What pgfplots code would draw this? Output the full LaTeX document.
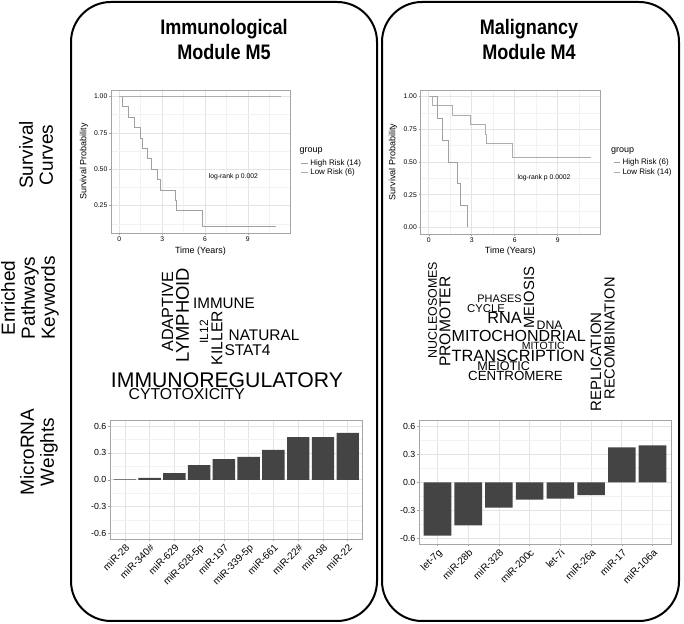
\documentclass[border=0pt]{standalone}
\usepackage{fontspec}
\setmainfont{Liberation Sans}
\usepackage{pgfplots}
\pgfplotsset{compat=1.18}

\definecolor{bordergray}{RGB}{165,165,165}
\definecolor{gridmaj}{RGB}{228,228,228}
\definecolor{gridmin}{RGB}{242,242,242}
\definecolor{barfill}{RGB}{68,68,68}
\definecolor{kmA}{RGB}{160,160,160}
\definecolor{kmB}{RGB}{172,172,172}

\pgfplotsset{
  gg/.style={
    scale only axis,
    clip mode=individual,
    /pgf/number format/assume math mode=true,
    axis line style={draw=bordergray, line width=0.7bp},
    tick style={draw=bordergray, line width=0.6bp},
    tick align=outside,
    major tick length=2bp,
    minor tick length=0pt,
    tick pos=left,
    grid=both,
    major grid style={draw=gridmaj, line width=0.7bp},
    minor grid style={draw=gridmin, line width=0.5bp},
  },
  surv/.style={
    gg,
    xmin=-0.58, xmax=11.95,
    xtick={0,3,6,9}, minor xtick={1.5,4.5,7.5,10.5},
    minor ytick={0.125,0.375,0.625,0.875},
    yticklabel style={/pgf/number format/fixed, /pgf/number format/fixed zerofill, /pgf/number format/precision=2},
    ticklabel style={font=\fontsize{6.8bp}{7bp}\selectfont, text=black, inner sep=1.5bp},
    label style={font=\fontsize{9bp}{10bp}\selectfont},
    xlabel={Time (Years)}, ylabel={Survival Probability},
    legend style={draw=none, fill=none, font=\fontsize{8bp}{9bp}\selectfont, inner sep=0pt, row sep=-1.5bp,
      /tikz/every even column/.append style={column sep=1bp}},
    legend cell align=left,
    legend image code/.code={\draw[#1, line width=0.9bp] (0bp,0bp) -- (6.5bp,0bp);},
  },
  bars/.style={
    gg,
    ymin=-0.66, ymax=0.66, xmin=-0.6,
    ytick={-0.6,-0.3,0,0.3,0.6}, minor ytick={-0.45,-0.15,0.15,0.45},
    yticklabel style={/pgf/number format/fixed, /pgf/number format/fixed zerofill, /pgf/number format/precision=1},
    ticklabel style={font=\fontsize{8.8bp}{9bp}\selectfont, text=black, inner sep=1.5bp},
    xticklabel style={rotate=45, anchor=north east, inner sep=1.5bp, font=\fontsize{10bp}{10bp}\selectfont},
  },
}

\newcommand{\cw}[5]{\node[inner sep=0pt, rotate=#4, font=\fontsize{#3bp}{#3bp}\selectfont] at (#1,624-#2) {#5};}

\begin{document}
\begin{tikzpicture}[x=1bp, y=1bp]
\useasboundingbox (0,0) rectangle (684,624);

% rounded panels
\draw[line width=2bp, rounded corners=40bp] (71,624-2) rectangle (377,624-621);
\draw[line width=2bp, rounded corners=40bp] (382,624-2) rectangle (679,624-621);

% titles
\node[align=center, font=\fontsize{21bp}{25bp}\selectfont\bfseries] at (224,624-40) {\scalebox{0.86}[1]{Immunological}\\\scalebox{0.86}[1]{Module M5}};
\node[align=center, font=\fontsize{21bp}{25bp}\selectfont\bfseries] at (529,624-40) {\scalebox{0.86}[1]{Malignancy}\\\scalebox{0.86}[1]{Module M4}};

% row labels
\node[rotate=90, align=center, font=\fontsize{19bp}{20bp}\selectfont] at (36,624-155) {Survival\\Curves};
\node[rotate=90, align=center, font=\fontsize{19bp}{20bp}\selectfont] at (30,624-298) {Enriched\\Pathways\\Keywords};
\node[rotate=90, align=center, font=\fontsize{19bp}{20bp}\selectfont] at (39,624-452) {MicroRNA\\Weights};

% ---------- Survival left ----------
\begin{axis}[surv, at={(111bp,391bp)}, anchor=south west, width=179bp, height=143bp,
  ymin=0.062, ymax=1.045, ytick={0.25,0.5,0.75,1},
  xlabel style={at={(axis description cs:0.5,-0.124)}, anchor=center},
  ylabel style={at={(axis description cs:-0.151,0.5)}, anchor=center},
  legend style={at={(axis description cs:1.06,0.53)}, anchor=north west},
]
\addplot[kmA, line width=0.9bp, const plot] coordinates {
  (0,1) (0.23,0.929) (0.63,0.857) (1.03,0.786) (1.45,0.714) (1.63,0.643)
  (2.0,0.571) (2.22,0.5) (2.67,0.429) (2.9,0.357) (3.95,0.286) (4.02,0.214)
  (5.84,0.107) (11.0,0.107)};
\addlegendentry{High Risk (14)}
\addplot[kmB, line width=0.9bp, const plot] coordinates {(0,1) (11.3,1)};
\addlegendentry{Low Risk (6)}
\node[anchor=west, inner sep=0pt, font=\fontsize{9bp}{10bp}\selectfont] at (axis description cs:1.052,0.573) {group};
\node[font=\fontsize{6.8bp}{7bp}\selectfont] at (axis description cs:0.684,0.394) {log-rank p 0.002};
\end{axis}

% ---------- Survival right ----------
\begin{axis}[surv, at={(420.5bp,390bp)}, anchor=south west, width=179.5bp, height=144bp,
  ymin=-0.05, ymax=1.05, ytick={0,0.25,0.5,0.75,1},
  xlabel style={at={(axis description cs:0.5,-0.116)}, anchor=center},
  ylabel style={at={(axis description cs:-0.153,0.5)}, anchor=center},
  legend style={at={(axis description cs:1.072,0.535)}, anchor=north west},
]
\addplot[kmA, line width=0.9bp, const plot] coordinates {
  (0,1) (0.58,0.833) (0.95,0.667) (1.39,0.5) (1.97,0.333) (2.2,0.167) (2.67,0)};
\addlegendentry{High Risk (6)}
\addplot[kmB, line width=0.9bp, const plot] coordinates {
  (0,1) (0.23,0.929) (1.65,0.857) (2.9,0.786) (3.92,0.714) (4.01,0.643)
  (5.87,0.536) (11.3,0.536)};
\addlegendentry{Low Risk (14)}
\node[anchor=west, inner sep=0pt, font=\fontsize{9bp}{10bp}\selectfont] at (axis description cs:1.061,0.576) {group};
\node[font=\fontsize{6.8bp}{7bp}\selectfont] at (axis description cs:0.688,0.391) {log-rank p 0.0002};
\end{axis}

% ---------- word clouds ----------
\cw{167.5}{311.7}{16.2}{90}{ADAPTIVE}
\cw{182.5}{315.3}{18.4}{90}{LYMPHOID}
\cw{224}{303.3}{15.2}{0}{IMMUNE}
\cw{204}{331.7}{12}{90}{IL12}
\cw{217}{338}{15.7}{90}{KILLER}
\cw{264}{335}{15.4}{0}{NATURAL}
\cw{247.5}{350}{15.5}{0}{STAT4}
\cw{227}{380}{21.2}{0}{IMMUNOREGULATORY}
\cw{186.7}{393.7}{15.8}{0}{CYTOTOXICITY}

\cw{432.5}{310}{12.4}{90}{NUCLEOSOMES}
\cw{445}{321.7}{15.6}{90}{PROMOTER}
\cw{499.5}{299.2}{10.9}{0}{PHASES}
\cw{486}{308.3}{11.3}{0}{CYCLE}
\cw{504.5}{318}{16.3}{0}{RNA}
\cw{529}{297.5}{14.8}{90}{MEIOSIS}
\cw{549.7}{325}{12.3}{0}{DNA}
\cw{518.7}{336.3}{16}{0}{MITOCHONDRIAL}
\cw{543.3}{346}{10.5}{0}{MITOTIC}
\cw{518.3}{356}{16.3}{0}{TRANSCRIPTION}
\cw{503.7}{366.2}{12.6}{0}{MEIOTIC}
\cw{515.5}{375.7}{13.3}{0}{CENTROMERE}
\cw{596}{361.7}{15}{90}{REPLICATION}
\cw{609.5}{338.3}{14.6}{90}{RECOMBINATION}

% ---------- Bars left ----------
\begin{axis}[bars, at={(110bp,85bp)}, anchor=south west, width=252.5bp, height=118.3bp,
  xmax=9.6, xtick={0,...,9},
  xticklabels={miR-28, miR-340\#, miR-629, miR-628-5p, miR-197, miR-339-5p, miR-661, miR-22\#, miR-98, miR-22},
]
\addplot[ybar, bar width=0.9, fill=barfill, draw=none] coordinates {
  (0,0.004) (1,0.022) (2,0.074) (3,0.164) (4,0.23) (5,0.257) (6,0.335) (7,0.476) (8,0.476) (9,0.524)};
\end{axis}

% ---------- Bars right ----------
\begin{axis}[bars, at={(419bp,80bp)}, anchor=south west, width=252bp, height=123.3bp,
  xmax=7.6, xtick={0,...,7},
  xticklabels={let-7g, miR-28b, miR-328, miR-200c, let-7i, miR-26a, miR-17, miR-106a},
]
\addplot[ybar, bar width=0.9, fill=barfill, draw=none] coordinates {
  (0,-0.57) (1,-0.46) (2,-0.27) (3,-0.184) (4,-0.174) (5,-0.138) (6,0.375) (7,0.397)};
\end{axis}

\end{tikzpicture}
\end{document}
